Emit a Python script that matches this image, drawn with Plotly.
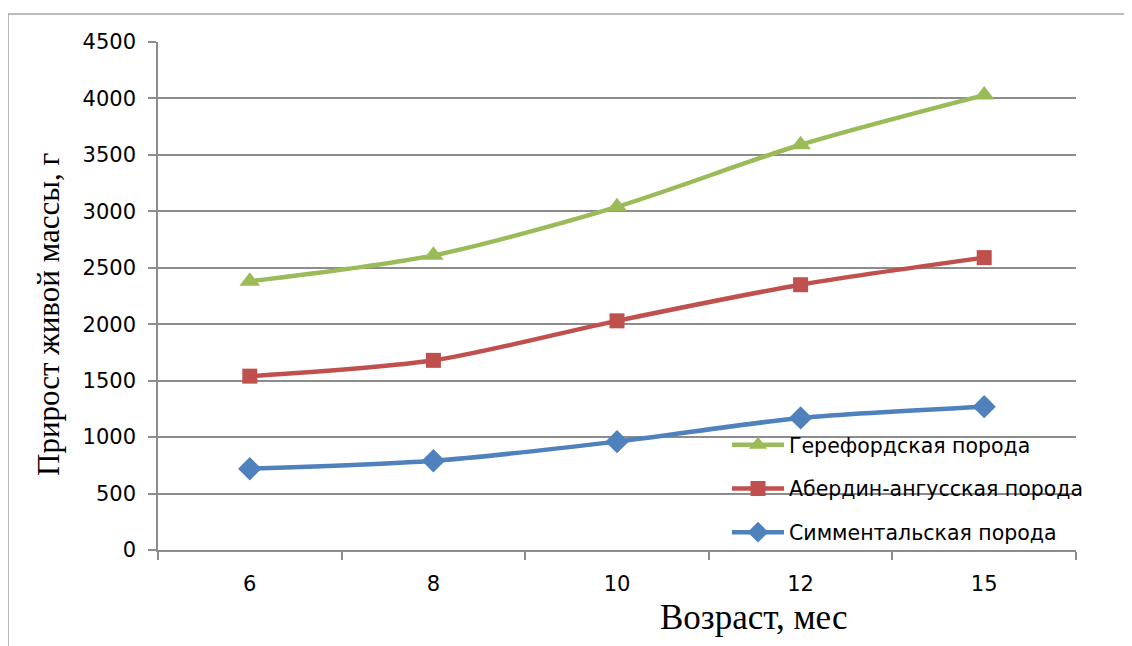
import plotly.graph_objects as go

ages = ["6", "8", "10", "12", "15"]
hereford = [2380, 2610, 3040, 3590, 4030]
aberdeen = [1540, 1680, 2030, 2350, 2590]
simmental = [720, 790, 960, 1170, 1270]
y_ticks = [0, 500, 1000, 1500, 2000, 2500, 3000, 3500, 4000, 4500]

series = [
    ("Герефордская порода", hereford, "#9BBB59", "triangle-up", 18),
    ("Абердин-ангусская порода", aberdeen, "#C0504D", "square", 15),
    ("Симментальская порода", simmental, "#4F81BD", "diamond", 18),
]

fig = go.Figure()
for i, (name, vals, color, sym, size) in enumerate(series):
    fig.add_trace(go.Scatter(
        x=ages, y=vals, name=name, mode="lines+markers",
        line=dict(color=color, width=4.5, shape="spline", smoothing=0.8),
        marker=dict(symbol=sym, size=size, color=color),
        legendgroup=f"g{i}",
    ))

# page body has an 8px margin; work in reference pixel coords and shift
OFF = 8
W, H = 1132 - OFF, 646 - OFF
X0, X1, Y0, Y1 = 158, 1076, 42, 550  # plot area in reference pixels
L, R, T, B = X0 - OFF, W - (X1 - OFF), Y0 - OFF, H - (Y1 - OFF)
pw, ph = X1 - X0, Y1 - Y0

def px_x(p):
    return (p - X0) / pw

def px_y(p):
    return (Y1 - p) / ph

fig.update_layout(
    width=W, height=H,
    margin=dict(l=L, r=R, t=T, b=B),
    paper_bgcolor="white", plot_bgcolor="white",
    font=dict(family="DejaVu Sans", color="black"),
    showlegend=True,
    legend=dict(
        x=px_x(727), y=px_y(425), xanchor="left", yanchor="top",
        bgcolor="rgba(0,0,0,0)", font=dict(size=20.5, family="DejaVu Sans", color="black"),
        tracegroupgap=14, traceorder="grouped", itemwidth=52,
    ),
    xaxis=dict(
        type="category", range=[-0.5, 4.5], showgrid=False,
        showline=True, linecolor="#8c8c8c", linewidth=1.5,
        ticks="outside", tickson="boundaries", ticklen=8, tickcolor="#8c8c8c", tickwidth=1.5,
        tickfont=dict(size=21, family="DejaVu Sans", color="black"),
        ticklabelstandoff=14, zeroline=False,
    ),
    yaxis=dict(
        range=[0, 4500], tickvals=y_ticks, showgrid=True, gridcolor="#8c8c8c", gridwidth=1.5,
        showline=True, linecolor="#8c8c8c", linewidth=1.5,
        ticks="outside", ticklen=8, tickcolor="#8c8c8c", tickwidth=1.5,
        tickfont=dict(size=21, family="DejaVu Sans", color="black"),
        ticklabelstandoff=8, zeroline=False,
    ),
    shapes=[dict(
        type="rect", xref="paper", yref="paper",
        x0=px_x(8), x1=px_x(1160), y0=px_y(14), y1=px_y(670),
        line=dict(color="#a6a6a6", width=1.5), fillcolor="rgba(0,0,0,0)", layer="below",
    )],
    annotations=[
        dict(text="Возраст, мес", xref="paper", yref="paper", x=px_x(754), y=px_y(617),
             showarrow=False, font=dict(family="Liberation Serif", size=35, color="black"),
             xanchor="center", yanchor="middle"),
        dict(text="Прирост живой массы, г", xref="paper", yref="paper", x=px_x(49), y=px_y(315),
             showarrow=False, textangle=-90,
             font=dict(family="Liberation Serif", size=31, color="black"),
             xanchor="center", yanchor="middle"),
    ],
)

fig.write_html("out.html")
